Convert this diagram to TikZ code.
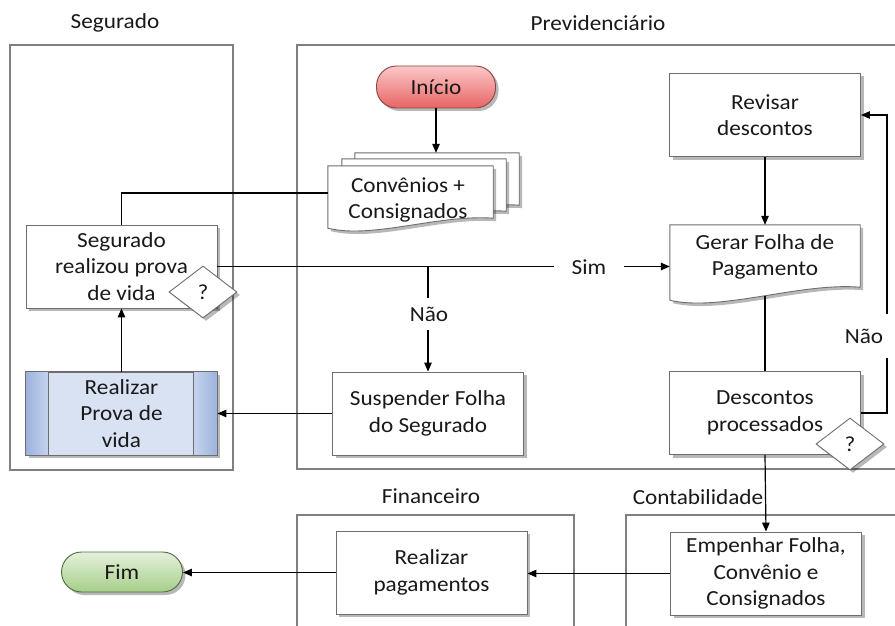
\documentclass[tikz,border=0pt]{standalone}
\usepackage{fontspec}
\setmainfont{Carlito}[FakeStretch=1.08]
\usetikzlibrary{arrows.meta,shapes.geometric,shadows,calc}

\definecolor{lanegray}{HTML}{7F7F7F}
\definecolor{boxgray}{HTML}{6E6E6E}
\definecolor{startTop}{HTML}{FBC8C8}
\definecolor{startBot}{HTML}{E86464}
\definecolor{startLine}{HTML}{8A4444}
\definecolor{endTop}{HTML}{E4F1DA}
\definecolor{endBot}{HTML}{A6CE8A}
\definecolor{endLine}{HTML}{4E6B3E}
\definecolor{subFill}{HTML}{D9E2F3}
\definecolor{barDark}{HTML}{9DB3DE}
\definecolor{barLight}{HTML}{C5D3EE}

\begin{document}
\begin{tikzpicture}[x=1pt,y=-1pt,
  every node/.style={font=\fontsize{21.5}{26.5}\selectfont, inner sep=0pt, text=black!90},
  lane/.style={draw=lanegray, line width=1.1pt},
  boxshadow/.style={drop shadow={shadow xshift=3pt, shadow yshift=-3pt, opacity=0.28, fill=black}},
  procbox/.style={draw=boxgray, fill=white, line width=0.9pt, minimum width=191pt,
                  minimum height=83pt, align=center, boxshadow},
  terminal/.style={draw, line width=0.9pt, rounded corners=20pt, boxshadow},
  diamondq/.style={diamond, draw=boxgray, fill=white, line width=0.9pt,
                   minimum width=68pt, minimum height=52pt, boxshadow},
  docline/.style={draw=boxgray, fill=white, line width=0.9pt, boxshadow},
  ghost/.style={minimum width=#1, inner sep=0pt},
  conn/.style={draw=black, line width=1.2pt},
  arr/.style={conn, -{Triangle[length=9pt,width=7.5pt]}},
  cut/.style={fill=white, inner ysep=2pt}
]
\clip (0,0) rectangle (895,626);
\fill[white] (0,0) rectangle (895,626);

% swimlanes
\draw[lane] (10,45) rectangle (233,470);
\draw[lane] (297,45) rectangle (910,469);
\draw[lane] (297,515) rectangle (574,640);
\draw[lane] (626,515) rectangle (910,640);
\node (lseg)  at (115,23)  {Segurado};
\node (lprev) at (598,23)  {Previdenciário};
\node (lfin)  at (431,496) {Financeiro};
\node (lcont) at (698,497) {Contabilidade};

% start terminal
\node[terminal, draw=startLine, top color=startTop, bottom color=startBot,
      minimum width=119pt, minimum height=42pt] (inicio) at (436,87) {Início};

% stacked documents
\node[ghost=164pt, minimum height=62pt] (conv3) at (437,184) {};
\node[ghost=164pt, minimum height=62pt] (conv2) at (424,190) {};
\node[ghost=165pt, minimum height=62pt] (conv1) at (410.5,197) {};
\foreach \d in {conv3,conv2,conv1}{
  \path[docline] (\d.north west) -- (\d.north east) -- ([yshift=10pt]\d.south east)
     .. controls +(-55,-4) and +(45,11) .. (\d.south west) -- cycle;
}
\node[align=center] (convtxt) at (408,200) {Convênios +\\Consignados};

% Segurado lane
\node[procbox] (seg) at (121.5,266.5) {Segurado\\realizou prova\\de vida};
\node[diamondq] (segq) at (203,292) {?};
\node[procbox, fill=subFill] (prova) at (121.5,413.5) {Realizar\\Prova de\\vida};
\shade[left color=barDark, right color=barLight]
  ([shift={(0.5pt,-0.5pt)}]prova.north west) rectangle ([xshift=23pt]prova.south west);
\shade[left color=barLight, right color=barDark]
  ([xshift=-24pt]prova.north east) rectangle ([shift={(-0.5pt,0.5pt)}]prova.south east);
\draw[boxgray, line width=0.9pt] (prova.north west) rectangle (prova.south east);
\draw[boxgray, line width=0.9pt] ([xshift=23pt]prova.north west) -- ([xshift=23pt]prova.south west);
\draw[boxgray, line width=0.9pt] ([xshift=-24pt]prova.north east) -- ([xshift=-24pt]prova.south east);

% Previdenciario lane
\node[procbox] (susp) at (428,413.5) {Suspender Folha\\do Segurado};
\node[procbox] (rev) at (765,115) {Revisar\\descontos};
\node[ghost=190pt, minimum height=75pt] (gerar) at (765,262.5) {};
\path[docline] (gerar.north west) -- (gerar.north east) -- ([yshift=13pt]gerar.south east)
   .. controls +(-60,-5) and +(50,12) .. (gerar.south west) -- cycle;
\node[align=center] (gerartxt) at (765,257) {Gerar Folha de\\Pagamento};
\node[procbox] (desc) at (765,413) {Descontos\\processados};
\node[diamondq] (descq) at (850,444) {?};

% Contabilidade and Financeiro lanes
\node[procbox] (emp) at (766,573.5) {Empenhar Folha,\\Convênio e\\Consignados};
\node[procbox] (pag) at (431.5,572.5) {Realizar\\pagamentos};
\node[terminal, draw=endLine, top color=endTop, bottom color=endBot,
      minimum width=121pt, minimum height=40pt] (fim) at (122,572) {Fim};

% connectors
\draw[arr] (inicio.south) -- (inicio.south |- conv3.north);
\draw[conn] ([yshift=4pt]conv1.west) -| (seg.north);
\draw[arr] (seg.east) -- (seg.east -| gerar.west);
\coordinate (split) at (seg.east -| susp.north);
\draw[arr] (split) -- (susp.north);
\draw[arr] (susp.west) -- (prova.east);
\draw[arr] (prova.north) -- (seg.south);
\draw[arr] (rev.south) -- (gerar.north);
\draw[conn] ([yshift=4pt]gerar.south) -- (desc.north);
\draw[arr] (desc.east) -- ++(26,0) |- (rev.east);
\draw[arr] (desc.south) -- (emp.north);
\draw[arr] (emp.west) -- (emp.west -| pag.east);
\draw[arr] (pag.west) -- (pag.west -| fim.east);

% branch labels
\node[cut, inner xsep=18pt] (sim) at (589,267) {Sim};
\node[cut, inner ysep=9pt, inner xsep=4pt] (naoA) at (429,314) {Não};
\node[cut, minimum width=48pt, minimum height=44pt] (naoB) at (864,336) {Não};
\end{tikzpicture}
\end{document}
